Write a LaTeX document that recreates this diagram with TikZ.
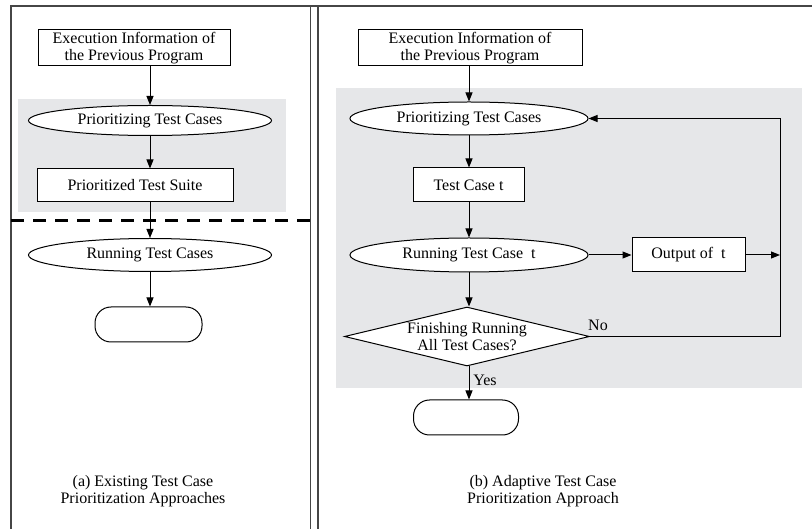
\documentclass[tikz,border=0pt]{standalone}
\usepackage{fontspec}
\setmainfont{Liberation Serif}
\usetikzlibrary{shapes.geometric,arrows.meta}
\definecolor{bgc}{RGB}{230,231,233}
\definecolor{framec}{RGB}{70,70,70}
\begin{document}
\begin{tikzpicture}[x=1pt,y=-1pt,
  every node/.style={font=\fontsize{16}{17}\selectfont, align=center},
  box/.style={draw, line width=1pt, fill=white, rectangle, inner sep=0pt},
  oval/.style={draw, line width=1pt, fill=white, ellipse, inner sep=0pt},
  term/.style={draw, line width=1pt, fill=white, rectangle, rounded corners=16pt, inner sep=0pt},
  dmd/.style={draw, line width=1pt, fill=white, diamond, inner sep=0pt},
  arr/.style={line width=1pt, -{Triangle[length=9pt,width=7pt]}},
  frame/.style={line width=1.6pt, draw=framec},
]
\useasboundingbox (0,0) rectangle (812,529);
% shaded regions
\fill[bgc] (18,99) rectangle (286,212);
\fill[bgc] (336,88) rectangle (802,388);
% frame
\draw[frame] (11,529) -- (11,6) -- (812,6);
\draw[frame] (310.5,6) -- (310.5,529);
\draw[frame] (318,6) -- (318,529);
\draw[line width=3pt, dash pattern=on 13pt off 9pt] (11,221) -- (310,221);

% ---------- left panel ----------
\node[box, minimum width=192pt, minimum height=36pt] (ex1) at (134,48) {Execution Information of\\the Previous Program};
\node[oval, minimum width=243pt, minimum height=30pt] (pr1) at (150,120.5) {Prioritizing Test Cases};
\node[box, minimum width=196pt, minimum height=33pt] (ps1) at (135,185.5) {Prioritized Test Suite};
\node[oval, minimum width=243pt, minimum height=33pt] (ru1) at (150,255) {Running Test Cases};
\node[term, minimum width=107pt, minimum height=35pt] (end1) at (148.5,324.5) {};
\node (capa) at (143,491) {(a) Existing Test Case\\Prioritization Approaches};

\draw[arr] (ex1.south -| pr1.north) -- (pr1.north);
\draw[arr] (pr1.south) -- (ps1.north -| pr1.south);
\draw[arr] (ps1.south -| ru1.north) -- (ru1.north);
\draw[arr] (ru1.south) -- (end1.north -| ru1.south);

% ---------- right panel ----------
\node[box, minimum width=224pt, minimum height=36pt] (ex2) at (470,48) {Execution Information of\\the Previous Program};
\node[oval, minimum width=238pt, minimum height=33pt] (pr2) at (469,118.5) {Prioritizing Test Cases};
\node[box, minimum width=111pt, minimum height=34pt] (tc) at (468.5,185) {Test Case t};
\node[oval, minimum width=238pt, minimum height=34pt] (ru2) at (469,255) {Running Test Case~ t};
\node[box, minimum width=113pt, minimum height=34pt] (out) at (688.5,255) {Output of~ t};
\node[dmd, minimum width=245pt, minimum height=59pt] (dia) at (467,336.5) {};
\node[inner sep=0pt] (diat) at (dia) {Finishing Running\\All Test Cases?};
\node[term, minimum width=105pt, minimum height=35pt] (end2) at (466,417.5) {};
\coordinate (lp) at (780,255);
\node (no) at (598,325) {No};
\node (yes) at (485,380) {Yes};
\node (capb) at (543,491) {(b) Adaptive Test Case\\Prioritization Approach};

\draw[arr] (ex2.south -| pr2.north) -- (pr2.north);
\draw[arr] (pr2.south) -- (tc.north -| pr2.south);
\draw[arr] (tc.south -| ru2.north) -- (ru2.north);
\draw[arr] (ru2.east) -- (out.west);
\draw[arr] (out.east) -- (lp);
\draw[arr] (ru2.south) -- (dia.north -| ru2.south);
\draw[arr] (dia.east) -- (dia.east -| lp) -- (pr2.east -| lp) -- (pr2.east);
\draw[arr] (dia.south -| ru2.south) -- (end2.north -| ru2.south);
\end{tikzpicture}
\end{document}
